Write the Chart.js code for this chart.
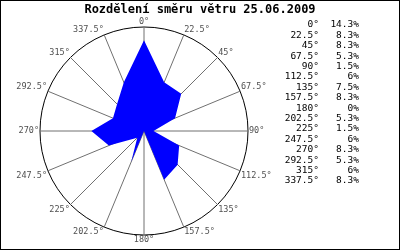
<!DOCTYPE html>
<html>
<head>
<meta charset="utf-8">
<script src="https://cdn.jsdelivr.net/npm/chart.js@4/dist/chart.umd.min.js"></script>
<style>
	html, body { margin: 0; padding: 0; background: #fff; }
	#wrap { width: 400px; height: 250px; }
</style>
</head>
<body>
<div id="wrap"><canvas id="canvas"></canvas></div>
<script>
// smery vetru (stupne) a jejich cetnost v %
var dirLabels = ['0°', '22.5°', '45°', '67.5°', '90°', '112.5°', '135°', '157.5°',
	'180°', '202.5°', '225°', '247.5°', '270°', '292.5°', '315°', '337.5°'];
var windShare = [14.3, 8.3, 8.3, 5.3, 1.5, 6, 7.5, 8.3, 0, 5.3, 1.5, 6, 8.3, 5.3, 6, 8.3];
var scaleMax = 16.4;
var chartTitle = 'Rozdělení směru větru 25.06.2009';

// nadpis, tabulka vpravo + ramecek
var sidePlugin = {
	id: 'side',
	afterDraw: function(chart) {
		var ctx = chart.ctx;
		ctx.save();
		ctx.fillStyle = '#000';
		ctx.textBaseline = 'middle';
		ctx.textAlign = 'center';
		ctx.font = 'bold 12px "DejaVu Sans Mono"';
		ctx.fillText(chartTitle, 200, 9.5);

		ctx.font = '9.5px "DejaVu Sans Mono"';
		ctx.textAlign = 'right';
		for (var i = 0; i < dirLabels.length; i++) {
			var y = 25 + i * 10.4;
			ctx.fillText(dirLabels[i], 319, y);
			ctx.fillText(windShare[i] + '%', 359, y);
		}
		ctx.strokeStyle = '#000';
		ctx.lineWidth = 1;
		ctx.strokeRect(0.5, 0.5, chart.width - 1, chart.height - 1);
		ctx.restore();
	}
};

var ctx = document.getElementById('canvas').getContext('2d');
var chart = new Chart(ctx, {
	type: 'radar',
	data: {
		labels: dirLabels,
		datasets: [{
			data: windShare,
			backgroundColor: '#0000ff',
			borderColor: '#0000ff',
			borderWidth: 0,
			pointRadius: 0,
			fill: true
		}]
	},
	options: {
		responsive: true,
		maintainAspectRatio: false,
		animation: false,
		layout: { padding: { left: 4, right: 116, top: 17.5, bottom: 5.5 } },
		plugins: {
			legend: { display: false },
			tooltip: { enabled: false },
			title: { display: false }
		},
		scales: {
			r: {
				min: 0,
				max: scaleMax,
				ticks: { display: false, stepSize: scaleMax },
				grid: { circular: true, color: '#000', lineWidth: 1 },
				angleLines: { color: '#707070', lineWidth: 1 },
				pointLabels: {
					color: '#505050',
					padding: 1,
					font: { family: '"DejaVu Sans Mono"', size: 8.5, lineHeight: 1 }
				}
			}
		}
	},
	plugins: [sidePlugin]
});
</script>
</body>
</html>
